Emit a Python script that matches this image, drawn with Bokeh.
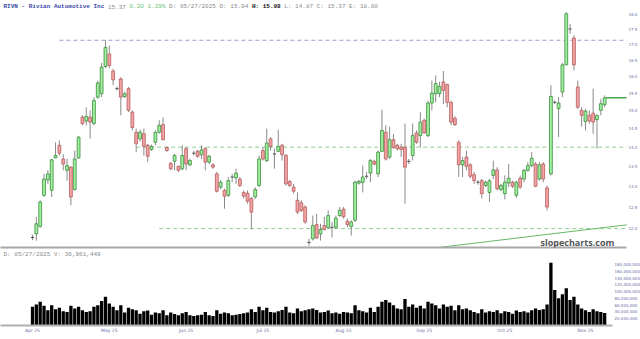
from bokeh.plotting import figure
from bokeh.layouts import column
from bokeh.models import Range1d, FixedTicker, PrintfTickFormatter, NumeralTickFormatter, Label, ColumnDataSource
from bokeh.embed import file_html
from bokeh.resources import INLINE

# ---------------- data ----------------
opens = [11.80, 11.88, 12.05, 12.78, 13.16, 12.90, 13.72, 14.05, 13.69, 13.40,
         13.48, 12.92, 13.72, 14.82, 14.71, 14.82, 14.64, 15.39, 15.49, 16.31,
         16.70, 16.17, 15.64, 15.93, 15.41, 15.64, 14.96, 14.40, 14.22, 14.36,
         14.05, 13.94, 14.13, 14.40, 14.61, 13.99, 13.58, 13.63, 13.50, 13.44,
         13.96, 13.54, 13.84, 13.89, 13.80, 13.96, 13.61, 13.54, 13.31, 12.98,
         12.90, 12.78, 13.23, 13.21, 13.18, 12.85, 12.83, 12.70, 12.74, 13.02,
         13.91, 13.65, 14.22, 13.82, 13.89, 14.05, 13.78, 13.12, 12.98, 12.66,
         12.60, 12.50, 11.69, 11.77, 12.09, 11.88, 12.07, 12.03, 12.03, 12.03,
         12.30, 12.45, 12.17, 12.05, 12.19, 13.08, 13.10, 13.25, 13.33, 13.63,
         13.31, 13.89, 14.40, 13.74, 14.20, 14.05, 14.00, 14.00, 13.63, 13.78,
         14.38, 14.31, 14.73, 14.31, 15.22, 15.49, 15.49, 15.84, 15.76, 15.24,
         14.79, 14.13, 13.54, 13.74, 13.54, 13.29, 13.10, 13.14, 13.02, 12.85,
         13.27, 13.41, 12.92, 12.82, 13.08, 13.10, 12.78, 13.20, 13.18, 13.40,
         13.52, 13.56, 13.18, 13.56, 12.96, 13.31, 15.24, 15.06, 15.54, 16.36,
         17.51, 17.21, 15.69, 15.01, 14.70, 14.87, 14.93, 14.75, 15.01, 15.17]
highs = [11.86, 12.27, 12.66, 13.31, 13.40, 13.69, 14.13, 14.18, 13.82, 13.69,
         13.50, 13.91, 14.29, 14.87, 15.10, 15.01, 15.39, 15.88, 16.42, 17.14,
         16.97, 16.24, 15.70, 15.98, 15.55, 15.69, 15.01, 14.50, 14.47, 14.50,
         14.09, 14.07, 14.45, 14.73, 14.81, 14.02, 13.61, 13.82, 13.52, 14.05,
         14.00, 13.70, 13.90, 13.93, 14.05, 14.00, 13.80, 13.58, 13.36, 13.16,
         12.94, 13.23, 13.31, 13.44, 13.23, 12.90, 12.90, 12.74, 12.98, 13.78,
         14.00, 14.50, 14.27, 13.96, 14.47, 14.09, 13.82, 13.16, 13.06, 12.85,
         12.66, 12.54, 11.77, 12.30, 12.34, 12.11, 12.27, 12.42, 12.15, 12.30,
         12.50, 12.50, 12.23, 12.19, 13.14, 13.16, 13.52, 13.36, 13.69, 13.67,
         13.91, 15.03, 14.59, 14.55, 14.36, 14.09, 14.09, 14.64, 13.69, 14.64,
         14.45, 14.96, 14.78, 15.29, 15.88, 16.04, 15.84, 16.17, 15.79, 15.29,
         14.84, 14.18, 13.74, 13.91, 13.58, 13.36, 13.16, 13.18, 13.14, 13.18,
         13.65, 13.48, 13.06, 13.27, 13.56, 13.14, 13.14, 13.27, 13.44, 13.61,
         13.87, 13.61, 13.61, 13.61, 13.02, 15.74, 15.29, 15.39, 16.42, 18.08,
         17.68, 17.30, 15.88, 15.10, 15.05, 15.01, 15.64, 14.89, 15.34, 15.44]
lows = [11.74, 11.73, 12.02, 12.74, 13.06, 12.74, 13.70, 13.78, 13.40, 13.14,
        12.54, 12.90, 13.69, 14.59, 14.59, 14.23, 14.59, 15.34, 15.39, 16.26,
        16.26, 15.74, 15.58, 14.87, 15.36, 14.96, 14.45, 13.87, 14.15, 13.78,
        13.61, 13.90, 14.05, 14.36, 14.18, 13.88, 13.40, 13.40, 13.36, 13.40,
        13.40, 13.50, 13.78, 13.72, 13.69, 13.40, 13.56, 13.44, 12.85, 12.93,
        12.46, 12.74, 13.10, 13.06, 12.98, 12.70, 12.58, 11.98, 12.70, 12.98,
        13.65, 13.61, 13.91, 13.44, 13.87, 13.65, 13.02, 12.98, 12.82, 12.33,
        12.38, 12.11, 11.62, 11.73, 11.77, 11.73, 11.96, 11.99, 11.80, 11.99,
        12.27, 12.23, 12.03, 11.84, 12.15, 13.04, 12.85, 13.18, 13.10, 13.52,
        13.23, 13.87, 13.65, 13.69, 13.96, 13.91, 13.74, 12.58, 13.56, 13.65,
        14.09, 14.00, 14.36, 14.27, 15.01, 15.24, 15.39, 15.19, 15.10, 14.59,
        14.57, 13.23, 13.23, 13.40, 13.20, 13.06, 13.04, 12.70, 12.98, 12.62,
        13.18, 12.90, 12.88, 12.68, 12.98, 12.96, 12.72, 12.94, 13.10, 13.36,
        13.48, 12.98, 13.14, 13.10, 12.42, 13.27, 15.19, 14.27, 15.39, 16.36,
        17.35, 16.19, 15.05, 14.55, 14.45, 14.64, 14.36, 13.96, 14.87, 15.10]
closes = [11.80, 12.11, 12.62, 13.18, 13.31, 13.67, 13.78, 13.84, 13.56, 13.52,
          12.74, 13.69, 14.27, 14.64, 14.84, 14.68, 15.29, 15.81, 16.29, 16.91,
          16.34, 15.90, 15.64, 15.39, 15.49, 15.01, 14.53, 14.09, 14.40, 14.02,
          13.76, 14.02, 14.40, 14.59, 14.20, 13.91, 13.44, 13.78, 13.40, 13.78,
          13.56, 13.65, 13.84, 13.76, 13.93, 13.61, 13.76, 13.48, 12.88, 13.10,
          12.76, 13.14, 13.23, 13.33, 13.02, 12.76, 12.64, 12.38, 12.92, 13.69,
          13.69, 14.11, 14.02, 13.82, 14.02, 13.80, 13.06, 13.02, 12.88, 12.38,
          12.42, 12.15, 11.69, 12.07, 11.79, 11.98, 11.98, 12.30, 12.03, 12.24,
          12.42, 12.27, 12.09, 12.15, 13.10, 13.12, 13.23, 13.25, 13.65, 13.56,
          13.87, 14.45, 13.69, 14.20, 13.99, 13.96, 13.94, 13.48, 13.63, 14.31,
          14.13, 14.68, 14.38, 15.22, 15.51, 15.79, 15.71, 15.59, 15.24, 14.68,
          14.61, 13.54, 13.65, 13.50, 13.25, 13.14, 13.10, 12.82, 13.10, 13.14,
          13.41, 12.94, 13.02, 13.10, 13.20, 13.00, 13.10, 12.98, 13.40, 13.52,
          13.71, 13.00, 13.54, 13.18, 12.50, 15.41, 15.24, 15.22, 16.36, 18.02,
          17.51, 16.36, 15.10, 14.87, 14.99, 14.71, 14.68, 14.87, 15.20, 15.37]
volumes_m = [55, 62, 70, 58, 45, 60, 48, 52, 42, 40,
             58, 50, 55, 45, 40, 42, 55, 60, 72, 85,
             65, 55, 45, 60, 38, 52, 48, 45, 35, 42,
             44, 32, 38, 36, 45, 30, 38, 34, 30, 36,
             40, 30, 28, 30, 32, 40, 30, 28, 45, 35,
             38, 36, 30, 32, 34, 36, 38, 48, 40, 55,
             45, 52, 40, 38, 42, 46, 55, 38, 36, 50,
             42, 45, 48, 50, 46, 38, 40, 44, 36, 38,
             35, 40, 38, 36, 60, 45, 42, 38, 52, 40,
             55, 70, 75, 68, 60, 50, 48, 78, 55, 62,
             52, 58, 50, 70, 65, 60, 50, 62, 55, 58,
             45, 60, 48, 50, 45, 40, 36, 48, 38, 42,
             40, 45, 36, 42, 40, 35, 44, 40, 42, 38,
             45, 50, 46, 48, 62, 185, 105, 80, 92, 110,
             75, 85, 62, 50, 45, 40, 48, 42, 40, 37]

month_labels = ["Apr 25", "May 25", "Jun 25", "Jul 25", "Aug 25", "Sep 25", "Oct 25", "Nov 25"]
month_tick_idx = [0, 20, 40, 60, 81, 102, 123, 144]
price_ticks = [12.0, 12.5, 13.0, 13.5, 14.0, 14.5, 15.0, 15.5, 16.0, 16.5, 17.0, 17.5, 18.0]
volume_ticks = [20e6, 40e6, 60e6, 80e6, 100e6, 120e6, 140e6, 160e6, 180e6]

level_price = [17.14, 14.0, 12.0]
level_start_idx = [7, 27, 33]
trend_idx = [101, 158]
trend_price = [11.53, 12.12]

title_name = "RIVN - Rivian Automotive Inc"
title_last = "15.37"
title_change = "0.20 1.29%"
title_mid = "D: 05/27/2025 O: 15.94"
title_high = "H: 15.98"
title_rest = "L: 14.87 C: 15.37 E: 18.00"
volume_header = "D: 05/27/2025 V: 36,961,449"

# ---------------- layout constants ----------------
PX_PER_BAR = 3.84
FIRST_BAR_PX = 32
PRICE_FRAME_W, PRICE_FRAME_H = 626, 247
VOL_FRAME_W, VOL_FRAME_H = 612, 76
x_start = -FIRST_BAR_PX / PX_PER_BAR
AXIS_COLOR = "#6a6aa8"
MONO = "Liberation Mono"
CW = 3.6  # char width of 6px mono

n = len(opens)
idx = list(range(n))

up = [i for i in idx if closes[i] > opens[i]]
dn = [i for i in idx if closes[i] < opens[i]]
fl = [i for i in idx if closes[i] == opens[i]]

p = figure(frame_width=PRICE_FRAME_W, frame_height=PRICE_FRAME_H,
           x_range=Range1d(x_start, x_start + PRICE_FRAME_W / PX_PER_BAR),
           y_range=Range1d(11.578, 18.48), y_axis_type="log", y_axis_location="right",
           toolbar_location=None, output_backend="svg",
           min_border_left=0, min_border_top=0, min_border_bottom=2, min_border_right=0)
p.outline_line_color = None
p.grid.grid_line_color = None
p.background_fill_color = "white"

ya = p.yaxis[0]
ya.ticker = FixedTicker(ticks=price_ticks)
ya.formatter = PrintfTickFormatter(format="%.1f")
ya.axis_line_color = None
ya.major_tick_line_color = None
ya.minor_tick_line_color = None
ya.major_tick_out = 0
ya.major_tick_in = 0
ya.minor_tick_out = 0
ya.minor_tick_in = 0
ya.major_label_standoff = 2
ya.major_label_text_font_size = "4px"
ya.major_label_text_color = AXIS_COLOR
ya.major_label_text_font = "DejaVu Sans"

xa = p.xaxis[0]
xa.axis_line_color = "#a8a8a8"
xa.axis_line_width = 2
xa.major_tick_out = 0
xa.major_tick_in = 0
xa.minor_tick_out = 0
xa.minor_tick_in = 0
xa.major_tick_line_color = None
xa.minor_tick_line_color = None
xa.major_label_text_font_size = "0px"
xa.major_label_standoff = 0
xa.ticker = FixedTicker(ticks=[])

x_end = x_start + PRICE_FRAME_W / PX_PER_BAR

# horizontal levels
p.segment(x0=level_start_idx, x1=[x_end + 5] * len(level_price), y0=level_price, y1=level_price,
          line_color=["#9c9cd0", "#8fd08f", "#8fd08f"], line_width=1, line_dash="4 3")
# trend line
p.line(trend_idx, trend_price, line_color="#66b866", line_width=1)

# wicks
p.segment(x0=idx, x1=idx, y0=highs, y1=lows, line_color="#8a8a8a", line_width=1)

src_up = ColumnDataSource(dict(x=up, top=[closes[i] for i in up], bottom=[opens[i] for i in up]))
src_dn = ColumnDataSource(dict(x=dn, top=[opens[i] for i in dn], bottom=[closes[i] for i in dn]))
p.vbar(x="x", top="top", bottom="bottom", width=0.74, source=src_up,
       fill_color="#9ef09e", line_color="#3c8c3c", line_width=0.8)
p.vbar(x="x", top="top", bottom="bottom", width=0.74, source=src_dn,
       fill_color="#f2a4a4", line_color="#b85a5a", line_width=0.8)
p.segment(x0=[i - 0.4 for i in fl], x1=[i + 0.4 for i in fl],
          y0=[opens[i] for i in fl], y1=[opens[i] for i in fl], line_color="#444444", line_width=1)

# last price line
p.segment(x0=[n - 1 + 0.4], x1=[x_end + 5], y0=[closes[-1]], y1=[closes[-1]],
          line_color="#44a844", line_width=1.5)

# header texts
segs = [(0, title_name, "#3a4aa8", "bold"),
        (29, title_last, "#8a8a8a", "normal"),
        (35, title_change, "#6cbf6c", "normal"),
        (46, title_mid, "#8a8a8a", "normal"),
        (69, title_high, "#111111", "bold"),
        (78, title_rest, "#8a8a8a", "normal")]
for ci, txt, col, style in segs:
    p.add_layout(Label(x=3 + ci * CW, y=PRICE_FRAME_H - 6, x_units="screen", y_units="screen",
                       text=txt, text_font=MONO, text_font_size="6px", text_color=col,
                       text_font_style=style, text_baseline="middle"))

p.add_layout(Label(x=540, y=5, x_units="screen", y_units="screen", text="slopecharts.com",
                   text_font="Open Sans", text_font_style="bold", text_font_size="9px",
                   text_color="#555555", text_baseline="middle"))

# ---------------- volume ----------------
v = figure(frame_width=VOL_FRAME_W, frame_height=VOL_FRAME_H,
           x_range=Range1d(x_start, x_start + VOL_FRAME_W / PX_PER_BAR),
           y_range=Range1d(0, 224e6), y_axis_location="right",
           toolbar_location=None, output_backend="svg",
           min_border_left=0, min_border_top=0, min_border_bottom=0, min_border_right=0)
v.outline_line_color = None
v.grid.grid_line_color = None

v.vbar(x=idx, top=[m * 1e6 for m in volumes_m], width=0.86, fill_color="black", line_color=None)

vy = v.yaxis[0]
vy.ticker = FixedTicker(ticks=volume_ticks)
vy.formatter = NumeralTickFormatter(format="0,0")
vy.axis_line_color = None
vy.major_tick_line_color = None
vy.minor_tick_line_color = None
vy.major_tick_out = 0
vy.major_tick_in = 0
vy.minor_tick_out = 0
vy.minor_tick_in = 0
vy.major_label_standoff = 2
vy.major_label_text_font_size = "4px"
vy.major_label_text_color = AXIS_COLOR
vy.major_label_text_font = "DejaVu Sans"

vx = v.xaxis[0]
vx.ticker = FixedTicker(ticks=month_tick_idx)
vx.major_label_overrides = {t: lab for t, lab in zip(month_tick_idx, month_labels)}
vx.axis_line_color = "#b0b0b0"
vx.axis_line_width = 2
vx.major_tick_line_color = None
vx.minor_tick_line_color = None
vx.major_tick_out = 0
vx.major_tick_in = 0
vx.minor_tick_out = 0
vx.minor_tick_in = 0
vx.major_label_standoff = 2
vx.major_label_text_font_size = "4.5px"
vx.major_label_text_color = AXIS_COLOR
vx.major_label_text_font = "DejaVu Sans"

v.add_layout(Label(x=3, y=VOL_FRAME_H - 5, x_units="screen", y_units="screen", text=volume_header,
                   text_font=MONO, text_font_size="6px", text_color="#8a8a8a", text_baseline="middle"))

layout = column(p, v, spacing=0)
open("out.html", "w").write(file_html(layout, INLINE))
